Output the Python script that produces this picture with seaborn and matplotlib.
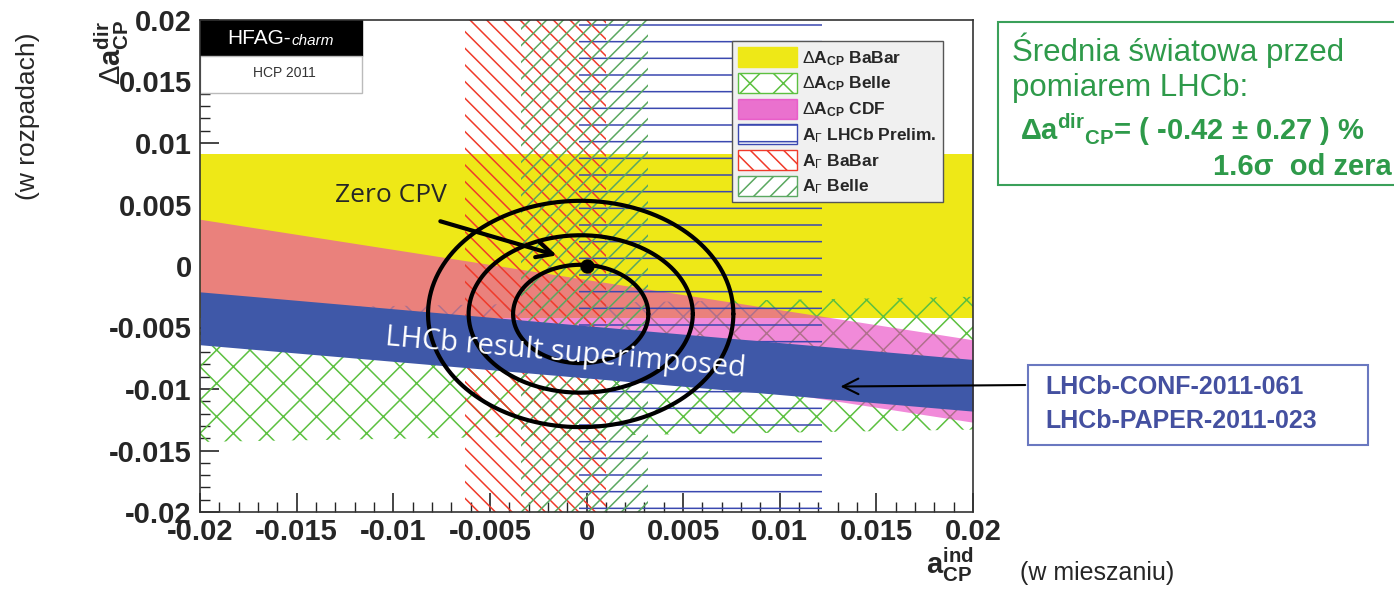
import numpy as np
import pandas as pd
import matplotlib
matplotlib.use("Agg")
import matplotlib.pyplot as plt
from matplotlib.patches import Patch, Rectangle
from matplotlib.ticker import MultipleLocator
import seaborn as sns

# ---- data ----
band_x = [-0.02, 0.02]                       # edges of the slanted bands
babar_dacp = (-0.0042, 0.0091)               # horizontal band (Delta A_CP BaBar)
belle_dacp_lo = [-0.0143, -0.0133]
belle_dacp_hi = [-0.0035, -0.0025]
cdf_dacp_lo = [-0.0030, -0.0127]
cdf_dacp_hi = [0.0038, -0.0060]
lhcb_dacp_lo = [-0.0064, -0.0118]
lhcb_dacp_hi = [-0.0021, -0.0076]

lhcb_agamma = (-0.0004, 0.0122)              # vertical bands (A_Gamma)
babar_agamma = (-0.0063, 0.0010)
belle_agamma = (-0.0034, 0.0032)

contour_center = (-0.0003, -0.0039)
contour_ax = [0.0035, 0.0058, 0.0079]        # semi-axes of 1/2/3 sigma contours
contour_ay = [0.0040, 0.0064, 0.0092]
zero_cpv = (0.0, 0.0)

xticks = [-0.02, -0.015, -0.01, -0.005, 0, 0.005, 0.01, 0.015, 0.02]
xticklabels = ["-0.02", "-0.015", "-0.01", "-0.005", "0", "0.005", "0.01", "0.015", "0.02"]
yticks = xticks
yticklabels = xticklabels

legend_labels = [
    r"$\Delta\mathbf{A}_{\mathbf{CP}}$ BaBar",
    r"$\Delta\mathbf{A}_{\mathbf{CP}}$ Belle",
    r"$\Delta\mathbf{A}_{\mathbf{CP}}$ CDF",
    r"$\mathbf{A}_{\Gamma}$ LHCb Prelim.",
    r"$\mathbf{A}_{\Gamma}$ BaBar",
    r"$\mathbf{A}_{\Gamma}$ Belle",
]

# ---- colours ----
YELLOW = "#eee817"
PINK = "#e83cc0"
BLUE_BAND = "#3f58a8"
BLUE_LINES = "#3a48b0"
RED = "#f03a2a"
GREEN_X = "#5cc040"
GREEN_D = "#5aa860"
TXT_GREEN = "#2e9a4a"
TXT_BLUE = "#4450a0"

sns.set_theme(style="ticks")
plt.rcParams["font.family"] = ["Liberation Sans", "DejaVu Sans"]
plt.rcParams["mathtext.fontset"] = "custom"
plt.rcParams["mathtext.rm"] = "Liberation Sans"
plt.rcParams["mathtext.bf"] = "Liberation Sans:bold"
plt.rcParams["mathtext.it"] = "Liberation Sans:italic"
plt.rcParams["hatch.linewidth"] = 1.1

W, H = 1394, 589
fig = plt.figure(figsize=(W / 100, H / 100), dpi=100)
ax = fig.add_axes([200 / W, 1 - 512 / H, 773 / W, 492 / H])
ax.set_xlim(-0.02, 0.02)
ax.set_ylim(-0.02, 0.02)

# horizontal BaBar band
ax.axhspan(*babar_dacp, color=YELLOW, lw=0, zorder=1)
# Belle Delta A_CP (cross hatch)
ax.fill_between(band_x, belle_dacp_lo, belle_dacp_hi, facecolor="none",
                edgecolor=GREEN_X, hatch="x", lw=0, zorder=2)
# CDF Delta A_CP
ax.fill_between(band_x, cdf_dacp_lo, cdf_dacp_hi, color=PINK, alpha=0.6,
                lw=0, zorder=3)
# A_Gamma bands
ax.axvspan(*lhcb_agamma, facecolor="none", edgecolor=BLUE_LINES, hatch="-",
           lw=0, zorder=4)
ax.axvspan(*babar_agamma, facecolor="none", edgecolor=RED, hatch="\\\\",
           lw=0, zorder=5)
ax.axvspan(*belle_agamma, facecolor="none", edgecolor=GREEN_D, hatch="//",
           lw=0, zorder=6)
# LHCb result
ax.fill_between(band_x, lhcb_dacp_lo, lhcb_dacp_hi, color=BLUE_BAND, lw=0,
                zorder=7)

# contours
t = np.linspace(0, 2 * np.pi, 300)
for a, b in zip(contour_ax, contour_ay):
    df = pd.DataFrame({"x": contour_center[0] + a * np.cos(t),
                       "y": contour_center[1] + b * np.sin(t)})
    sns.lineplot(data=df, x="x", y="y", sort=False, estimator=None,
                 color="black", lw=3, ax=ax, zorder=8)
sns.scatterplot(x=[zero_cpv[0]], y=[zero_cpv[1]], color="black", s=90,
                ax=ax, zorder=9, edgecolor="black")

ax.text(-0.0101, 0.0057, "Zero CPV", fontsize=19, family="Open Sans",
        ha="center", va="center", zorder=10)
ax.annotate("", xy=(-0.0014, 0.0008), xytext=(-0.0077, 0.0037),
            arrowprops=dict(arrowstyle="->", lw=3, color="black",
                            mutation_scale=28), zorder=10)
ax.text(-0.0011, -0.0071, "LHCb result superimposed", fontsize=21,
        family="Open Sans", color="white", rotation=-5, ha="center",
        va="center", rotation_mode="anchor", zorder=10)

# HFAG logo
ax.add_patch(Rectangle((0, 0.927), 0.21, 0.073, transform=ax.transAxes,
                       facecolor="black", edgecolor="black", zorder=11))
ax.add_patch(Rectangle((0, 0.851), 0.21, 0.076, transform=ax.transAxes,
                       facecolor="white", edgecolor="#bbbbbb", lw=1, zorder=11))
ax.text(0.035, 0.962, "HFAG-", transform=ax.transAxes, color="white",
        fontsize=15, va="center", zorder=12)
ax.text(0.119, 0.958, "charm", transform=ax.transAxes, color="white",
        fontsize=11, style="italic", va="center", zorder=12)
ax.text(0.109, 0.892, "HCP 2011", transform=ax.transAxes, color="#333333",
        fontsize=10, ha="center", va="center", zorder=12)

# legend
handles = [
    Patch(facecolor=YELLOW, edgecolor=YELLOW),
    Patch(facecolor="white", edgecolor=GREEN_X, hatch="x"),
    Patch(facecolor=PINK, alpha=0.7, edgecolor=PINK),
    Patch(facecolor="white", edgecolor=BLUE_LINES, hatch="-"),
    Patch(facecolor="white", edgecolor=RED, hatch="\\\\"),
    Patch(facecolor="white", edgecolor=GREEN_D, hatch="//"),
]
leg = ax.legend(handles, legend_labels, loc="upper right",
                bbox_to_anchor=(0.961, 0.957), fancybox=False, framealpha=1,
                facecolor="#f0f0f0", edgecolor="#555555",
                prop=dict(weight="bold", size=12.5), handlelength=3.4,
                handleheight=1.4, handletextpad=0.3, labelspacing=0.3,
                borderpad=0.35, borderaxespad=0)
leg.set_zorder(13)

# axes styling
ax.set_xticks(xticks, xticklabels)
ax.set_yticks(yticks, yticklabels)
ax.xaxis.set_minor_locator(MultipleLocator(0.001))
ax.yaxis.set_minor_locator(MultipleLocator(0.001))
ax.tick_params(which="major", direction="in", length=14, width=1.2,
               labelsize=21, top=False, right=False)
ax.tick_params(which="minor", direction="in", length=7, width=1,
               top=False, right=False)
ax.tick_params(axis="x", pad=4)
ax.tick_params(axis="y", pad=6)
for lab in ax.get_xticklabels() + ax.get_yticklabels():
    lab.set_fontweight("bold")
for s in ax.spines.values():
    s.set_linewidth(1.2)
    s.set_color("#333333")
    s.set_zorder(14)
ax.set_xlabel("")
ax.set_ylabel("")

# axis titles
fig.text(112 / W, 1 - 52 / H, r"$\Delta\mathbf{a}^{\mathbf{dir}}_{\mathbf{CP}}$",
         rotation=90, fontsize=21, ha="center", va="center")
fig.text(28 / W, 1 - 116 / H, "(w rozpadach)", rotation=90, fontsize=19,
         ha="center", va="center")
fig.text(950 / W, 1 - 565 / H, r"$\mathbf{a}^{\mathbf{ind}}_{\mathbf{CP}}$",
         fontsize=21, ha="center", va="center")
fig.text(1020 / W, 1 - 573 / H, "(w mieszaniu)", fontsize=18, ha="left",
         va="center")

# world average box
fig.patches.append(Rectangle((998 / W, 1 - 185 / H), 420 / W, 163 / H,
                             transform=fig.transFigure, facecolor="white",
                             edgecolor="#3aa05a", lw=1.5))
fig.text(1012 / W, 1 - 50 / H, "Średnia światowa przed", color=TXT_GREEN,
         fontsize=22.5, va="center")
fig.text(1012 / W, 1 - 88 / H, "pomiarem LHCb:", color=TXT_GREEN,
         fontsize=22.5, va="center")
fig.text(1020 / W, 1 - 130 / H,
         r"$\mathbf{\Delta a}^{\mathbf{dir}}{}_{\mathbf{CP}}$= ( -0.42 ± 0.27 ) %",
         color=TXT_GREEN, fontsize=21, fontweight="bold", va="center")
fig.text(1392 / W, 1 - 167 / H, "1.6σ  od zera", color=TXT_GREEN,
         fontsize=21, fontweight="bold", ha="right", va="center")

# LHCb reference box
fig.patches.append(Rectangle((1028 / W, 1 - 445 / H), 340 / W, 80 / H,
                             transform=fig.transFigure, facecolor="white",
                             edgecolor="#6a78c0", lw=1.5))
fig.text(1045 / W, 1 - 387 / H, "LHCb-CONF-2011-061", color=TXT_BLUE,
         fontsize=18, fontweight="bold", va="center")
fig.text(1045 / W, 1 - 421 / H, "LHCb-PAPER-2011-023", color=TXT_BLUE,
         fontsize=18, fontweight="bold", va="center")
ax.annotate("", xy=(0.0130, -0.0098), xytext=(1028 / W, 1 - 385 / H),
            textcoords="figure fraction",
            arrowprops=dict(arrowstyle="->", lw=1.5, color="black",
                            mutation_scale=28),
            annotation_clip=False, zorder=15)

fig.savefig("out.png", dpi=100)
